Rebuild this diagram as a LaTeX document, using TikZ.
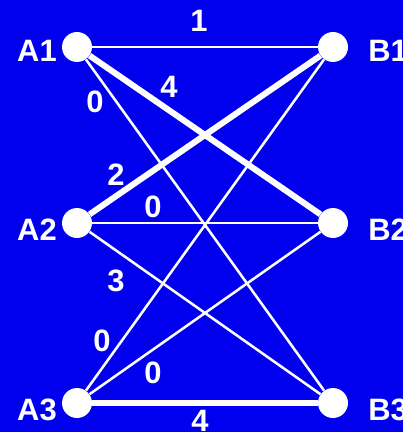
\documentclass[tikz,border=0pt]{standalone}
\usepackage{fontspec}
\setmainfont{Liberation Sans}
\usetikzlibrary{positioning}
\definecolor{bgblue}{HTML}{0000EE}
\tikzset{
  vertex/.style={
    circle,
    fill=white,
    minimum size=21.3pt,
    inner sep=0pt
  },
  vname/.style={
    text=white,
    font=\fontsize{22}{26}\selectfont\bfseries,
    inner sep=0pt
  },
  weight/.style={
    text=white,
    font=\fontsize{22}{26}\selectfont\bfseries,
    inner sep=0pt
  },
  thin edge/.style={draw=white, line width=1.8pt},
  thick edge/.style={draw=white, line width=4.3pt}
}
\begin{document}
\begin{tikzpicture}[x=0.025cm, y=-0.025cm]
  % Background
  \fill[bgblue] (0,0) rectangle (403,432);
  \useasboundingbox (0,0) rectangle (403,432);

  % Vertices
  \node[vertex] (a1) at (77,47) {};
  \node[vertex] (a2) at (77,223) {};
  \node[vertex] (a3) at (77,403) {};
  \node[vertex] (b1) at (333,47) {};
  \node[vertex] (b2) at (333,223) {};
  \node[vertex] (b3) at (333,403) {};

  % Vertex names
  \node[vname, anchor=east] (na1) at (57,51) {A1};
  \node[vname, anchor=east] (na2) at (57,230) {A2};
  \node[vname, anchor=east] (na3) at (57,410) {A3};
  \node[vname, anchor=west] (nb1) at (368,51) {B1};
  \node[vname, anchor=west] (nb2) at (368,230) {B2};
  \node[vname, anchor=west] (nb3) at (368,410) {B3};

  % Edges
  \draw[thin edge] (a1) -- (b1);
  \draw[thin edge] (a1) -- (b3);
  \draw[thin edge] (a2) -- (b2);
  \draw[thin edge] (a2) -- (b3);
  \draw[thin edge] (a3) -- (b1);
  \draw[thin edge] (a3) -- (b2);
  \draw[thick edge] (a1) -- (b2);
  \draw[thick edge] (a2) -- (b1);
  \draw[thick edge] (a3) -- (b3);

  % Weights
  \node[weight] (w11) at (199,21) {1};
  \node[weight] (w12) at (169,87) {4};
  \node[weight] (w13) at (95,102) {0};
  \node[weight] (w21) at (116,175) {2};
  \node[weight] (w22) at (153,207) {0};
  \node[weight] (w23) at (116,281) {3};
  \node[weight] (w31) at (102,341) {0};
  \node[weight] (w32) at (153,373) {0};
  \node[weight] (w33) at (200,421) {4};
\end{tikzpicture}
\end{document}
